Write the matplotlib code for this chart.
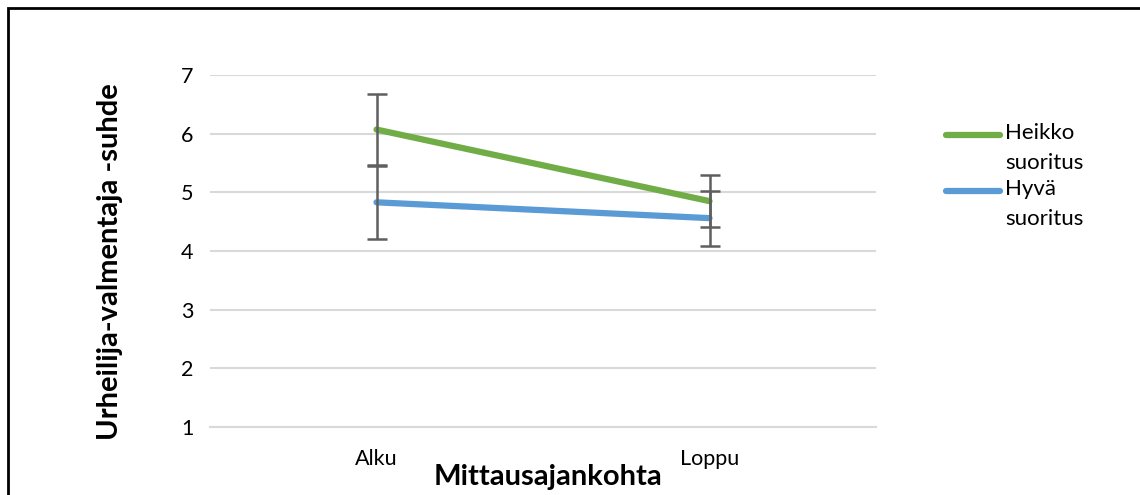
import numpy as np
import matplotlib.pyplot as plt
from matplotlib.lines import Line2D
from matplotlib.patches import Rectangle

plt.rcParams['font.family'] = ['Lato', 'DejaVu Sans']

categories = ['Alku', 'Loppu']
heikko = [6.07, 4.85]
heikko_err = [0.60, 0.44]
hyva = [4.83, 4.56]
hyva_err = [0.62, 0.47]
series = [('Heikko\nsuoritus', heikko, heikko_err, '#70ad47'),
          ('Hyvä\nsuoritus', hyva, hyva_err, '#5b9bd5')]

W, H = 1140, 495
fig = plt.figure(figsize=(W / 100, H / 100), dpi=100)
ax = fig.add_axes([210 / W, 1 - 427 / H, (876 - 210) / W, (427 - 75) / H])

x = np.arange(len(categories))
for label, vals, err, col in series:
    ax.plot(x, vals, color=col, lw=4.5, solid_capstyle='round', zorder=3)
    ax.errorbar(x, vals, yerr=err, fmt='none', ecolor='#5f5f5f', elinewidth=1.8,
                capsize=7, capthick=1.8, zorder=4)

ax.set_xlim(-0.5, 1.5)
ax.set_ylim(1, 7)
ax.set_yticks(range(1, 8))
ax.set_xticks(x)
ax.set_xticklabels(categories)
ax.grid(axis='y', color='#d9d9d9', lw=1.5)
ax.set_axisbelow(True)
for s in ['top', 'right', 'left']:
    ax.spines[s].set_visible(False)
ax.spines['bottom'].set_color('#d9d9d9')
ax.spines['bottom'].set_linewidth(1.5)
ax.tick_params(length=0, labelsize=15.5, colors='black')
ax.tick_params(axis='y', pad=12)
ax.tick_params(axis='x', pad=16)

ax.set_ylabel('Urheilija-valmentaja -suhde', fontsize=21, fontweight='bold')
ax.yaxis.set_label_coords(-0.131, 0.47)
fig.text(548 / W, 1 - 477 / H, 'Mittausajankohta', fontsize=21, fontweight='bold',
         ha='center', va='center')

# legend, line level with the first text row
for i, (label, vals, err, col) in enumerate(series):
    yl = 135 + i * 56
    fig.add_artist(Line2D([946 / W, 1000 / W], [1 - yl / H, 1 - yl / H], color=col, lw=4.5,
                          solid_capstyle='round', transform=fig.transFigure))
    fig.text(1005 / W, 1 - (yl - 12) / H, label, fontsize=16, ha='left', va='top', linespacing=1.65)

fig.patches.append(Rectangle((8 / W, -0.1), 1.2, 1 - 8 / H + 0.1, transform=fig.transFigure,
                             fill=False, edgecolor='black', lw=2))

fig.savefig('out.png', dpi=100, facecolor='white')
